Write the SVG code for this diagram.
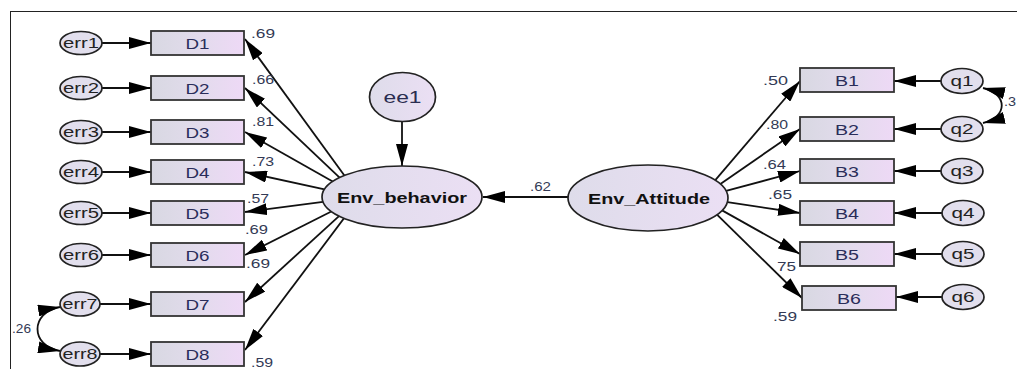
<svg xmlns="http://www.w3.org/2000/svg" width="1017" height="369" viewBox="0 0 1017 369">
<style>
.frame{fill:none;stroke:#222;stroke-width:1}
.box{fill:url(#bx);stroke:#333;stroke-width:1.8}
.err{fill:#e2dfed;stroke:#222;stroke-width:1.7}
.lat{fill:url(#lt);stroke:#222;stroke-width:1.7}
.ln{stroke:#111;stroke-width:1.8;fill:none;marker-end:url(#ah)}
.cv{stroke:#111;stroke-width:1.8;fill:none;marker-start:url(#ah);marker-end:url(#ah)}
.bl{font-family:"Liberation Sans",Arial,sans-serif;font-size:15px;fill:#2a2d5a;text-anchor:middle}
.el{font-family:"Liberation Sans",Arial,sans-serif;font-size:14px;fill:#222;text-anchor:middle}
.ll{font-family:"Liberation Sans",Arial,sans-serif;font-size:15px;font-weight:bold;fill:#111;text-anchor:middle}
.nm{font-family:"Liberation Sans",Arial,sans-serif;font-size:12.5px;fill:#333a55}
</style>
<defs>
<linearGradient id="bx" x1="0" y1="0" x2="1" y2="0">
<stop offset="0" stop-color="#d8d8e2"/><stop offset="0.5" stop-color="#e2dbec"/><stop offset="1" stop-color="#eed9f6"/>
</linearGradient>
<linearGradient id="lt" x1="0" y1="0" x2="1" y2="0">
<stop offset="0" stop-color="#dedcea"/><stop offset="1" stop-color="#ebdff4"/>
</linearGradient>
<marker id="ah" viewBox="0 0 22 12" refX="22" refY="6" markerWidth="22" markerHeight="12" markerUnits="userSpaceOnUse" orient="auto-start-reverse">
<path d="M0,0 L22,6 L0,12 z" fill="#000"/>
</marker>
</defs>
<rect width="1017" height="369" fill="#fff"/>
<rect class="frame" x="10.5" y="11.5" width="1030" height="380"/>

<g id="connectors">
<line class="ln" x1="102" y1="43" x2="151" y2="43"/>
<line class="ln" x1="102" y1="88" x2="151" y2="88"/>
<line class="ln" x1="102" y1="132" x2="151" y2="132"/>
<line class="ln" x1="102" y1="172" x2="151" y2="172"/>
<line class="ln" x1="102" y1="213" x2="151" y2="213"/>
<line class="ln" x1="102" y1="255" x2="151" y2="255"/>
<line class="ln" x1="100" y1="304" x2="151" y2="304"/>
<line class="ln" x1="100" y1="354" x2="151" y2="354"/>
<line class="ln" x1="344.4" y1="175.5" x2="245" y2="39"/>
<line class="ln" x1="339.6" y1="177.6" x2="245" y2="88"/>
<line class="ln" x1="332.7" y1="181.5" x2="245" y2="132"/>
<line class="ln" x1="324.5" y1="189.3" x2="245" y2="172"/>
<line class="ln" x1="323" y1="201.8" x2="245" y2="212"/>
<line class="ln" x1="331.3" y1="211.5" x2="245" y2="255"/>
<line class="ln" x1="339" y1="216.1" x2="245" y2="302"/>
<line class="ln" x1="344" y1="218.3" x2="245" y2="350"/>
<line class="ln" x1="402" y1="121" x2="402" y2="166"/>
<line class="ln" x1="568" y1="197" x2="483" y2="197"/>
<line class="ln" x1="715.3" y1="180.1" x2="800" y2="81"/>
<line class="ln" x1="720.4" y1="183.9" x2="800" y2="129"/>
<line class="ln" x1="726.1" y1="190.9" x2="800" y2="171"/>
<line class="ln" x1="727.4" y1="202.1" x2="800" y2="213"/>
<line class="ln" x1="722.1" y1="210.4" x2="800" y2="254"/>
<line class="ln" x1="717" y1="214.7" x2="802" y2="298"/>
<line class="ln" x1="941" y1="81" x2="894" y2="81"/>
<line class="ln" x1="941" y1="129" x2="894" y2="129"/>
<line class="ln" x1="941" y1="171" x2="894" y2="171"/>
<line class="ln" x1="942" y1="213" x2="894" y2="213"/>
<line class="ln" x1="942" y1="254" x2="894" y2="254"/>
<line class="ln" x1="942" y1="297" x2="896" y2="297"/>
<path class="cv" d="M60,307 C30,312 30,346 60,351"/>
<path class="cv" d="M983,88 C1008,94 1008,117 983,123"/>
</g>

<g id="err1"><ellipse class="err" cx="81" cy="43" rx="21" ry="11.5"/><text class="el" x="81" y="48" textLength="36" lengthAdjust="spacingAndGlyphs">err1</text></g>
<g id="err2"><ellipse class="err" cx="81" cy="88" rx="21" ry="11.5"/><text class="el" x="81" y="93" textLength="36" lengthAdjust="spacingAndGlyphs">err2</text></g>
<g id="err3"><ellipse class="err" cx="81" cy="132" rx="21" ry="11.5"/><text class="el" x="81" y="137" textLength="36" lengthAdjust="spacingAndGlyphs">err3</text></g>
<g id="err4"><ellipse class="err" cx="81" cy="172" rx="21" ry="11.5"/><text class="el" x="81" y="177" textLength="36" lengthAdjust="spacingAndGlyphs">err4</text></g>
<g id="err5"><ellipse class="err" cx="81" cy="213" rx="21" ry="11.5"/><text class="el" x="81" y="218" textLength="36" lengthAdjust="spacingAndGlyphs">err5</text></g>
<g id="err6"><ellipse class="err" cx="81" cy="255" rx="21" ry="11.5"/><text class="el" x="81" y="260" textLength="36" lengthAdjust="spacingAndGlyphs">err6</text></g>
<g id="err7"><ellipse class="err" cx="80" cy="304" rx="20" ry="12"/><text class="el" x="80" y="309" textLength="35" lengthAdjust="spacingAndGlyphs">err7</text></g>
<g id="err8"><ellipse class="err" cx="80" cy="354" rx="20" ry="12"/><text class="el" x="80" y="359" textLength="35" lengthAdjust="spacingAndGlyphs">err8</text></g>

<g id="D1"><rect class="box" x="151" y="31" width="93" height="24"/><text class="bl" x="197.5" y="48.5" textLength="24" lengthAdjust="spacingAndGlyphs">D1</text></g>
<g id="D2"><rect class="box" x="151" y="76" width="93" height="24"/><text class="bl" x="197.5" y="93.5" textLength="24" lengthAdjust="spacingAndGlyphs">D2</text></g>
<g id="D3"><rect class="box" x="151" y="120" width="93" height="24"/><text class="bl" x="197.5" y="137.5" textLength="24" lengthAdjust="spacingAndGlyphs">D3</text></g>
<g id="D4"><rect class="box" x="151" y="160" width="93" height="24"/><text class="bl" x="197.5" y="177.5" textLength="24" lengthAdjust="spacingAndGlyphs">D4</text></g>
<g id="D5"><rect class="box" x="151" y="201" width="93" height="24"/><text class="bl" x="197.5" y="218.5" textLength="24" lengthAdjust="spacingAndGlyphs">D5</text></g>
<g id="D6"><rect class="box" x="151" y="243" width="93" height="24"/><text class="bl" x="197.5" y="260.5" textLength="24" lengthAdjust="spacingAndGlyphs">D6</text></g>
<g id="D7"><rect class="box" x="151" y="292" width="93" height="24"/><text class="bl" x="197.5" y="309.5" textLength="24" lengthAdjust="spacingAndGlyphs">D7</text></g>
<g id="D8"><rect class="box" x="151" y="342" width="93" height="24"/><text class="bl" x="197.5" y="359.5" textLength="24" lengthAdjust="spacingAndGlyphs">D8</text></g>

<g id="ee1"><ellipse class="lat" cx="402.5" cy="97" rx="33" ry="24.5"/><text class="bl" x="402.5" y="103" style="font-size:17px;fill:#2a2d50" textLength="38" lengthAdjust="spacingAndGlyphs">ee1</text></g>
<g id="Env_behavior"><ellipse class="lat" cx="402" cy="197" rx="80" ry="31"/><text class="ll" x="402" y="202.5" textLength="130" lengthAdjust="spacingAndGlyphs">Env_behavior</text></g>
<g id="Env_Attitude"><ellipse class="lat" cx="648" cy="198" rx="80" ry="33"/><text class="ll" x="649" y="204" textLength="122" lengthAdjust="spacingAndGlyphs">Env_Attitude</text></g>

<g id="B1"><rect class="box" x="800" y="68" width="94" height="24"/><text class="bl" x="847" y="85.5" textLength="24" lengthAdjust="spacingAndGlyphs">B1</text></g>
<g id="B2"><rect class="box" x="800" y="117" width="94" height="24"/><text class="bl" x="847" y="134.5" textLength="24" lengthAdjust="spacingAndGlyphs">B2</text></g>
<g id="B3"><rect class="box" x="800" y="159" width="94" height="24"/><text class="bl" x="847" y="176.5" textLength="24" lengthAdjust="spacingAndGlyphs">B3</text></g>
<g id="B4"><rect class="box" x="800" y="201" width="94" height="24"/><text class="bl" x="847" y="218.5" textLength="24" lengthAdjust="spacingAndGlyphs">B4</text></g>
<g id="B5"><rect class="box" x="800" y="242" width="94" height="24"/><text class="bl" x="847" y="259.5" textLength="24" lengthAdjust="spacingAndGlyphs">B5</text></g>
<g id="B6"><rect class="box" x="802" y="286" width="94" height="24"/><text class="bl" x="849" y="303.5" textLength="24" lengthAdjust="spacingAndGlyphs">B6</text></g>

<g id="q1"><ellipse class="err" cx="962" cy="81" rx="21" ry="12.5"/><text class="el" x="962" y="86" style="font-size:15px" textLength="23" lengthAdjust="spacingAndGlyphs">q1</text></g>
<g id="q2"><ellipse class="err" cx="962" cy="129" rx="21" ry="12.5"/><text class="el" x="962" y="134" style="font-size:15px" textLength="23" lengthAdjust="spacingAndGlyphs">q2</text></g>
<g id="q3"><ellipse class="err" cx="962" cy="171" rx="21" ry="12.5"/><text class="el" x="962" y="176" style="font-size:15px" textLength="23" lengthAdjust="spacingAndGlyphs">q3</text></g>
<g id="q4"><ellipse class="err" cx="963" cy="213" rx="21" ry="12.5"/><text class="el" x="963" y="218" style="font-size:15px" textLength="23" lengthAdjust="spacingAndGlyphs">q4</text></g>
<g id="q5"><ellipse class="err" cx="963" cy="254" rx="21" ry="12.5"/><text class="el" x="963" y="259" style="font-size:15px" textLength="23" lengthAdjust="spacingAndGlyphs">q5</text></g>
<g id="q6"><ellipse class="err" cx="963" cy="297" rx="21" ry="12.5"/><text class="el" x="963" y="302" style="font-size:15px" textLength="23" lengthAdjust="spacingAndGlyphs">q6</text></g>

<g id="labels">
<text class="nm" x="251" y="37.5" textLength="24" lengthAdjust="spacingAndGlyphs">.69</text>
<text class="nm" x="252" y="83.5" textLength="22" lengthAdjust="spacingAndGlyphs">.66</text>
<text class="nm" x="252" y="125.5" textLength="22" lengthAdjust="spacingAndGlyphs">.81</text>
<text class="nm" x="252" y="165.5" textLength="22" lengthAdjust="spacingAndGlyphs">.73</text>
<text class="nm" x="247" y="202.5" textLength="22" lengthAdjust="spacingAndGlyphs">.57</text>
<text class="nm" x="245" y="233.5" textLength="23" lengthAdjust="spacingAndGlyphs">.69</text>
<text class="nm" x="246" y="267.5" textLength="24" lengthAdjust="spacingAndGlyphs">.69</text>
<text class="nm" x="251" y="366.5" textLength="22" lengthAdjust="spacingAndGlyphs">.59</text>
<text class="nm" x="530" y="190.5" textLength="21" lengthAdjust="spacingAndGlyphs">.62</text>
<text class="nm" x="763" y="84.5" textLength="25" lengthAdjust="spacingAndGlyphs">.50</text>
<text class="nm" x="766" y="128.5" textLength="22" lengthAdjust="spacingAndGlyphs">.80</text>
<text class="nm" x="763" y="168.5" textLength="23" lengthAdjust="spacingAndGlyphs">.64</text>
<text class="nm" x="768" y="198.5" textLength="24" lengthAdjust="spacingAndGlyphs">.65</text>
<text class="nm" x="777" y="270.5" textLength="19" lengthAdjust="spacingAndGlyphs">75</text>
<text class="nm" x="773" y="320.5" textLength="24" lengthAdjust="spacingAndGlyphs">.59</text>
<text class="nm" x="1004" y="105.5" textLength="12" lengthAdjust="spacingAndGlyphs">.3</text>
<text class="nm" x="12" y="332.5" textLength="19" lengthAdjust="spacingAndGlyphs">.26</text>
</g>
</svg>
